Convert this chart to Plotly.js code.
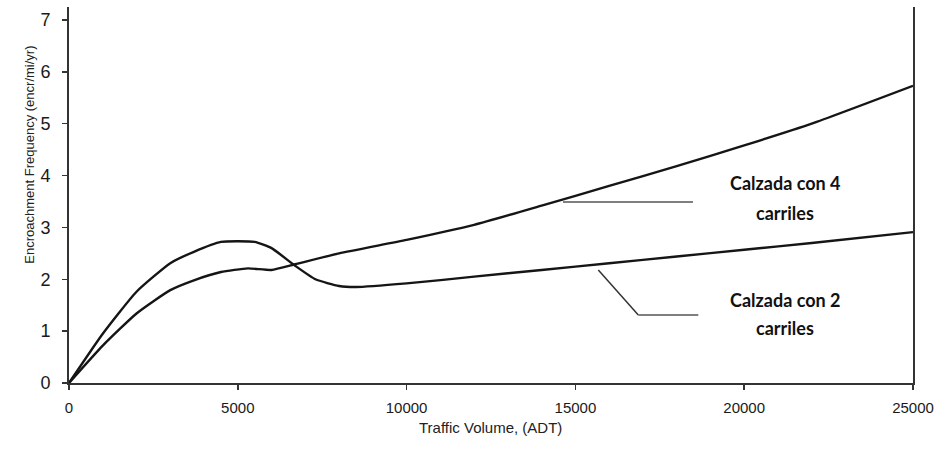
<!DOCTYPE html>
<html>
<head>
<meta charset="utf-8">
<script src="https://cdn.plot.ly/plotly-3.0.1.min.js"></script>
<style>html,body{margin:0;padding:0;background:#fff;}#chart{width:939px;height:455px;}</style>
</head>
<body>
<div id="chart"></div>
<script>
// Traffic volume (ADT)
const volume2 = [0, 1000, 2000, 3000, 3700, 4500, 5500, 6000, 6700, 7300, 8000, 8500, 10000, 12000, 14000, 16000, 18000, 20000, 22000, 25000];
// Encroachment frequency, 2-lane roadway
const freq2 = [0, 0.95, 1.76, 2.31, 2.53, 2.72, 2.72, 2.60, 2.26, 2.00, 1.87, 1.85, 1.92, 2.05, 2.18, 2.31, 2.44, 2.57, 2.70, 2.91];
const volume4 = [0, 1000, 2000, 3000, 3700, 4500, 5300, 6000, 6700, 8000, 10000, 12000, 14000, 16000, 18000, 20000, 22000, 25000];
// Encroachment frequency, 4-lane roadway
const freq4 = [0, 0.72, 1.34, 1.79, 1.98, 2.14, 2.21, 2.18, 2.29, 2.50, 2.76, 3.05, 3.42, 3.80, 4.18, 4.58, 5.00, 5.73];
const xTicks = [0, 5000, 10000, 15000, 20000, 25000];
const yTicks = [0, 1, 2, 3, 4, 5, 6, 7];
const label4 = ["Calzada con 4", "carriles"];
const label2 = ["Calzada con 2", "carriles"];

const lineStyle = {color: '#151515', width: 2.4, shape: 'spline', smoothing: 0.5};
const traces = [
  {x: volume2, y: freq2, mode: 'lines', line: lineStyle, name: '2 carriles', hoverinfo: 'x+y'},
  {x: volume4, y: freq4, mode: 'lines', line: lineStyle, name: '4 carriles', hoverinfo: 'x+y'}
];

const labFont = {family: 'Lato, Open Sans, sans-serif', size: 18, color: '#111', weight: 'bold'};

const layout = {
  width: 939, height: 455,
  margin: {l: 69, r: 26, t: 7, b: 72},
  paper_bgcolor: '#fff', plot_bgcolor: '#fff',
  showlegend: false,
  xaxis: {
    range: [0, 25000], tickvals: xTicks, ticktext: xTicks.map(String),
    showgrid: false, zeroline: false, showline: true, linecolor: '#333', linewidth: 2,
    ticks: 'outside', ticklen: 5, tickcolor: '#333', tickwidth: 1.5,
    tickfont: {family: 'Liberation Sans, Arial, sans-serif', size: 15, color: '#1a1a1a'},
    ticklabelstandoff: 5
  },
  yaxis: {
    range: [0, 7.25], tickvals: yTicks, ticktext: yTicks.map(String),
    showgrid: false, zeroline: false, showline: true, linecolor: '#333', linewidth: 2, mirror: true,
    ticks: 'outside', ticklen: 5, tickcolor: '#333', tickwidth: 1.5,
    tickfont: {family: 'Liberation Sans, Arial, sans-serif', size: 18, color: '#1a1a1a'},
    ticklabelstandoff: 8
  },
  shapes: [
    {type: 'line', xref: 'x', yref: 'y', x0: 14633, x1: 18483, y0: 3.49, y1: 3.49, line: {color: '#555', width: 1.5}},
    {type: 'line', xref: 'x', yref: 'y', x0: 15679, x1: 16863, y0: 2.18, y1: 1.31, line: {color: '#333', width: 1.5}},
    {type: 'line', xref: 'x', yref: 'y', x0: 16863, x1: 18640, y0: 1.31, y1: 1.31, line: {color: '#555', width: 1.5}}
  ],
  annotations: [
    {text: 'Encroachment Frequency (encr/mi/yr)', xref: 'paper', yref: 'paper', x: -0.058, y: 0.606,
     textangle: -90, showarrow: false, font: {family: 'Liberation Sans, Arial, sans-serif', size: 13, color: '#222'}},
    {text: 'Traffic Volume, (ADT)', xref: 'paper', yref: 'paper', x: 0.499, y: -0.146,
     showarrow: false, font: {family: 'Liberation Sans, Arial, sans-serif', size: 15, color: '#222'}},
    {text: label4[0], xref: 'x', yref: 'y', x: 21209, y: 3.85, showarrow: false, font: labFont},
    {text: label4[1], xref: 'x', yref: 'y', x: 21209, y: 3.28, showarrow: false, font: labFont},
    {text: label2[0], xref: 'x', yref: 'y', x: 21209, y: 1.60, showarrow: false, font: labFont},
    {text: label2[1], xref: 'x', yref: 'y', x: 21209, y: 1.06, showarrow: false, font: labFont}
  ]
};

Plotly.newPlot('chart', traces, layout, {displayModeBar: false, staticPlot: true});
</script>
</body>
</html>
